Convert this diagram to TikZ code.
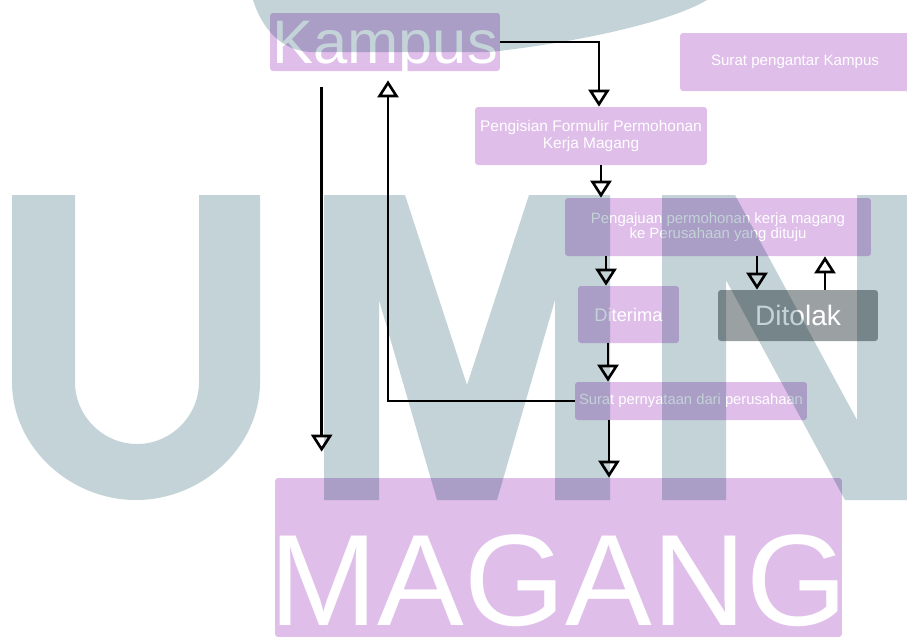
\documentclass[tikz,border=0pt]{standalone}
\usepackage{fontspec}
\setmainfont{Liberation Sans}
\usetikzlibrary{arrows.meta}
\definecolor{ungu}{HTML}{DFBEEA}
\definecolor{abu}{HTML}{9BA1A3}
\definecolor{umn}{HTML}{C3D3D8}
\tikzset{
  kotak/.style={fill=ungu, rounded corners=0.06cm, inner sep=0pt, text=white, align=center},
  alur/.style={draw=black, line width=1.5pt, -{Triangle[fill=white, length=0.34cm, width=0.42cm]}},
}
\begin{document}
\begin{tikzpicture}[x=0.02cm, y=-0.02cm]
\useasboundingbox (0,0) rectangle (907,637);
\clip (0,0) rectangle (907,637);
\node[kotak, minimum width=4.6cm, minimum height=1.16cm, text depth=0pt,
  font=\fontsize{35}{35}\selectfont] (kampus) at (385,42) {Kampus};
\node[kotak, minimum width=4.6cm, minimum height=1.16cm,
  font=\fontsize{8.6}{10}\selectfont] (pengantar) at (795,62) {Surat pengantar Kampus};
\node[kotak, minimum width=4.64cm, minimum height=1.16cm,
  font=\fontsize{8.8}{9.7}\selectfont] (isian) at (591,136) {Pengisian Formulir Permohonan\\Kerja Magang};
\node[kotak, minimum width=6.12cm, minimum height=1.16cm,
  font=\fontsize{8.5}{8.8}\selectfont] (ajuan) at (718,227) {Pengajuan permohonan kerja magang\\ke Perusahaan yang dituju};
\node[kotak, minimum width=2.02cm, minimum height=1.14cm,
  font=\fontsize{10.4}{12}\selectfont] (terima) at (628.5,314.5) {Diterima};
\node[kotak, fill=abu, minimum width=3.2cm, minimum height=1.02cm,
  font=\fontsize{16}{18}\selectfont] (tolak) at (798,315.5) {Ditolak};
\node[kotak, minimum width=4.64cm, minimum height=0.76cm,
  font=\fontsize{8.4}{10}\selectfont] (pernyataan) at (691,401) {Surat pernyataan dari perusahaan};
\node[kotak, minimum width=11.34cm, minimum height=3.18cm, text height=2.74cm, text depth=0pt,
  font=\fontsize{74}{74}\selectfont] (magang) at (558.5,557.5) {\makebox[0pt]{MAGANG}};

\draw[alur] (kampus.east) -| ([xshift=0.16cm]isian.north);
\draw[alur] ([xshift=0.2cm]isian.south) -- ([xshift=0.2cm]isian.south |- ajuan.north);
\draw[alur] ([xshift=-0.45cm]terima.north |- ajuan.south) -- ([xshift=-0.45cm]terima.north);
\draw[alur] ([xshift=-0.82cm]tolak.north |- ajuan.south) -- ([xshift=-0.82cm]tolak.north);
\draw[alur] ([xshift=0.54cm]tolak.north) -- ([xshift=0.54cm]tolak.north |- ajuan.south);
\draw[alur] ([xshift=-0.41cm]terima.south) -- ([xshift=-0.41cm]terima.south |- pernyataan.north);
\draw[alur] ([xshift=-1.64cm]pernyataan.south) -- ([xshift=-1.64cm]pernyataan.south |- magang.north);
\draw[alur, shorten >=0.18cm] (pernyataan.west) -| ([xshift=0.06cm]kampus.south);
\draw[alur, shorten <=0.32cm, shorten >=0.52cm] ([xshift=1.04cm]kampus.south west)
  -- ([xshift=1.04cm]kampus.south west |- magang.north);

\begin{scope}[blend mode=multiply]
\fill[umn] (253,0) .. controls (262,28) and (280,50) .. (310,52) -- (490,52)
  .. controls (580,42) and (670,22) .. (707,0) -- cycle;
\fill[umn] (12,195) -- (12,382) .. controls (12,447) and (70,500) .. (136,500)
  .. controls (202,500) and (260,447) .. (260,382) -- (260,195) -- (199,195) -- (199,382)
  .. controls (199,416) and (171,444) .. (137,444) .. controls (103,444) and (75,416) .. (75,382)
  -- (75,195) -- cycle;
\fill[umn] (324,195) -- (405,195) -- (467,385) -- (529,195) -- (610,195) -- (610,500)
  -- (555,500) -- (555,300) -- (497,500) -- (437,500) -- (379,300) -- (379,500) -- (324,500) -- cycle;
\fill[umn] (662,195) -- (735,195) -- (857,420) -- (857,195) -- (912,195) -- (912,500)
  -- (845,500) -- (726,280) -- (726,500) -- (662,500) -- cycle;
\end{scope}
\end{tikzpicture}
\end{document}
